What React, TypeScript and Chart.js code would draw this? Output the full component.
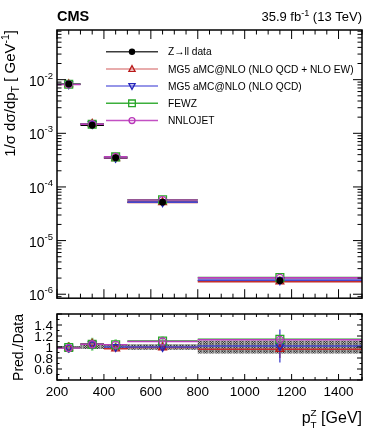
import React, { useEffect, useRef } from 'react';
import { Chart, registerables } from 'chart.js';
Chart.register(...registerables);

// ---------------- data ----------------
const binLow = [200, 300, 400, 500, 800];
const binHigh = [300, 400, 500, 800, 1500];
const binCenter = [250, 350, 450, 650, 1150];

const dataValues = [8.3e-3, 1.41e-3, 3.49e-4, 5.2e-5, 1.79e-6];
const mg5EwValues = [8.2e-3, 1.5e-3, 3.42e-4, 5.15e-5, 1.72e-6];
const mg5QcdValues = [8.2e-3, 1.49e-3, 3.49e-4, 5.2e-5, 1.83e-6];
const fewzValues = [8.2e-3, 1.48e-3, 3.63e-4, 5.75e-5, 2.04e-6];
const nnlojetValues = [8.15e-3, 1.48e-3, 3.63e-4, 5.7e-5, 2.02e-6];

const dataRelErr = [0.02, 0.035, 0.035, 0.05, 0.12];
const mg5EwRatio = [0.99, 1.06, 0.97, 0.99, 0.96];
const mg5EwRatioErr = [0.03, 0.04, 0.05, 0.06, 0.16];
const mg5QcdRatio = [0.99, 1.05, 1.0, 1.0, 1.02];
const mg5QcdRatioErr = [0.03, 0.04, 0.05, 0.06, 0.3];
const fewzRatio = [0.99, 1.05, 1.04, 1.11, 1.14];
const fewzRatioErr = [0.1, 0.12, 0.1, 0.08, 0.05];
const nnlojetRatio = [0.98, 1.05, 1.04, 1.1, 1.13];
const nnlojetRatioErr = [0.02, 0.02, 0.02, 0.03, 0.04];

const seriesLabels = ['Z\u2192ll data', 'MG5 aMC@NLO (NLO QCD + NLO EW)', 'MG5 aMC@NLO (NLO QCD)', 'FEWZ', 'NNLOJET'];
const xTickLabels = [200, 400, 600, 800, 1000, 1200, 1400];
const mainYDecades = [-2, -3, -4, -5, -6];
const ratioTickLabels = [0.6, 0.8, 1, 1.2, 1.4];

// ---------------- styles ----------------
const FONT = "'Liberation Sans', Arial, Helvetica, sans-serif";
const X_MIN = 200, X_MAX = 1500;
const Y_MIN = 8.43e-7, Y_MAX = 8.43e-2;
const R_MIN = 0.4, R_MAX = 1.6;

type Pred = {
  label: string; values: number[]; ratio: number[]; err: number[];
  line: string; legendLine: string; marker: string; style: string; rot: number; r: number;
  errColor: string; errWidth: number;
};
const preds: Pred[] = [
  { label: seriesLabels[1], values: mg5EwValues, ratio: mg5EwRatio, err: mg5EwRatioErr, line: 'rgb(195,45,45)', legendLine: 'rgb(225,145,145)', marker: 'rgb(185,25,25)', style: 'triangle', rot: 0, r: 4.5, errColor: 'rgb(205,40,40)', errWidth: 1.2 },
  { label: seriesLabels[2], values: mg5QcdValues, ratio: mg5QcdRatio, err: mg5QcdRatioErr, line: 'rgb(70,70,205)', legendLine: 'rgb(115,115,225)', marker: 'rgb(35,35,185)', style: 'triangle', rot: 180, r: 4.5, errColor: 'rgb(50,50,200)', errWidth: 1.2 },
  { label: seriesLabels[3], values: fewzValues, ratio: fewzRatio, err: fewzRatioErr, line: 'rgb(40,165,40)', legendLine: 'rgb(60,175,60)', marker: 'rgb(40,165,40)', style: 'rect', rot: 0, r: 5.5, errColor: 'rgba(90,200,90,0.75)', errWidth: 2.5 },
  { label: seriesLabels[4], values: nnlojetValues, ratio: nnlojetRatio, err: nnlojetRatioErr, line: 'rgb(185,60,185)', legendLine: 'rgb(195,80,195)', marker: 'rgb(185,55,185)', style: 'circle', rot: 0, r: 3.5, errColor: 'rgb(185,60,185)', errWidth: 1.2 },
];

type Pt = { x: number; y: number | null };
function binSegments(vals: number[]): Pt[] {
  const out: Pt[] = [];
  vals.forEach((v, i) => {
    out.push({ x: binLow[i], y: v }, { x: binHigh[i], y: v }, { x: binHigh[i], y: null });
  });
  return out;
}
function errSegments(vals: number[], errs: number[]): Pt[] {
  const out: Pt[] = [];
  vals.forEach((v, i) => {
    out.push({ x: binCenter[i], y: v - errs[i] }, { x: binCenter[i], y: v + errs[i] }, { x: binCenter[i], y: null });
  });
  return out;
}
function centerPoints(vals: number[]): Pt[] {
  return vals.map((v, i) => ({ x: binCenter[i], y: v }));
}
function bandEdge(sign: number): Pt[] {
  const out: Pt[] = [];
  dataRelErr.forEach((e, i) => {
    out.push({ x: binLow[i], y: 1 + sign * e }, { x: binHigh[i], y: 1 + sign * e });
  });
  return out;
}

type Piece = { t: string; s?: number; dy?: number; noAdv?: boolean; bold?: boolean };
function drawPieces(ctx: CanvasRenderingContext2D, pieces: Piece[], x: number, y: number, size: number, align: 'left' | 'right' | 'center') {
  const widths = pieces.map((p) => {
    ctx.font = `${p.bold ? 'bold ' : ''}${size * (p.s ?? 1)}px ${FONT}`;
    return ctx.measureText(p.t).width;
  });
  let total = 0;
  pieces.forEach((p, i) => { if (!p.noAdv) total += widths[i]; });
  let cx = align === 'left' ? x : align === 'right' ? x - total : x - total / 2;
  ctx.textAlign = 'left';
  ctx.textBaseline = 'alphabetic';
  pieces.forEach((p, i) => {
    ctx.font = `${p.bold ? 'bold ' : ''}${size * (p.s ?? 1)}px ${FONT}`;
    ctx.fillText(p.t, cx, y + (p.dy ?? 0) * size);
    if (!p.noAdv) cx += widths[i];
  });
}

function seg(ctx: CanvasRenderingContext2D, x1: number, y1: number, x2: number, y2: number) {
  ctx.beginPath(); ctx.moveTo(x1, y1); ctx.lineTo(x2, y2); ctx.stroke();
}

function drawMarker(ctx: CanvasRenderingContext2D, style: string, rot: number, x: number, y: number, r: number, color: string, filled: boolean) {
  ctx.save();
  ctx.strokeStyle = color; ctx.fillStyle = color; ctx.lineWidth = 1.3;
  ctx.beginPath();
  if (style === 'circle') {
    ctx.arc(x, y, r, 0, Math.PI * 2);
  } else if (style === 'rect') {
    const h = r * Math.SQRT1_2;
    ctx.rect(x - h, y - h, 2 * h, 2 * h);
  } else {
    const s = rot ? -1 : 1;
    const h = r * 0.85;
    ctx.moveTo(x, y - s * h);
    ctx.lineTo(x - h * 0.95, y + s * h * 0.75);
    ctx.lineTo(x + h * 0.95, y + s * h * 0.75);
    ctx.closePath();
  }
  if (filled) ctx.fill(); else ctx.stroke();
  ctx.restore();
}

function drawXTicks(ctx: CanvasRenderingContext2D, xs: any, a: any, maj: number, min: number) {
  for (let v = X_MIN; v <= X_MAX; v += 50) {
    const px = xs.getPixelForValue(v);
    const len = v % 200 === 0 ? maj : min;
    seg(ctx, px, a.bottom, px, a.bottom - len);
    seg(ctx, px, a.top, px, a.top + len);
  }
}

const mainDecor = {
  id: 'mainDecor',
  afterDraw(chart: any) {
    const { ctx, chartArea: a, scales } = chart;
    const xs = scales.x, ys = scales.y;
    ctx.save();
    ctx.strokeStyle = '#000'; ctx.fillStyle = '#000'; ctx.lineWidth = 1;
    drawXTicks(ctx, xs, a, 9, 4.5);
    for (let d = -7; d <= -1; d++) {
      for (let m = 1; m <= 9; m++) {
        const v = m * Math.pow(10, d);
        if (v < Y_MIN || v > Y_MAX) continue;
        const py = ys.getPixelForValue(v);
        const len = m === 1 ? 9 : 4.5;
        seg(ctx, a.left, py, a.left + len, py);
        seg(ctx, a.right, py, a.right - len, py);
      }
    }
    ctx.lineWidth = 1.5;
    ctx.strokeRect(a.left, a.top, a.right - a.left, a.bottom - a.top);

    // y labels
    mainYDecades.forEach((d) => {
      const py = ys.getPixelForValue(Math.pow(10, d));
      drawPieces(ctx, [{ t: '10' }, { t: String(d), s: 0.68, dy: -0.5 }], 53, py + 6, 14, 'right');
    });

    // legend
    const entryY0 = 51.7, entryDy = 17.2, lx0 = 106, lx1 = 158, mx = 132, tx = 168;
    seriesLabels.forEach((lab, i) => {
      const y = entryY0 + i * entryDy;
      ctx.lineWidth = 1.5;
      if (i === 0) {
        ctx.strokeStyle = 'rgb(60,60,60)';
        seg(ctx, lx0, y, lx1, y);
        drawMarker(ctx, 'circle', 0, mx, y, 3.2, '#000', true);
      } else {
        const p = preds[i - 1];
        ctx.strokeStyle = p.legendLine;
        seg(ctx, lx0, y, lx1, y);
        drawMarker(ctx, p.style, p.rot, mx, y, p.r * 0.85, p.marker, false);
      }
      ctx.fillStyle = '#000';
      drawPieces(ctx, [{ t: lab }], tx, y + 3.7, 10.2, 'left');
    });

    // header
    drawPieces(ctx, [{ t: 'CMS', bold: true }], a.left, 21, 14.5, 'left');
    drawPieces(ctx, [{ t: '35.9 fb' }, { t: '-1', s: 0.7, dy: -0.42 }, { t: ' (13 TeV)' }], a.right, 21, 13, 'right');

    // y title
    ctx.save();
    ctx.translate(15, a.top);
    ctx.rotate(-Math.PI / 2);
    drawPieces(ctx, [
      { t: '1/\u03c3 d\u03c3/dp' }, { t: 'T', s: 0.7, dy: 0.25 }, { t: ' [ GeV' }, { t: '-1', s: 0.7, dy: -0.42 }, { t: ']' },
    ], 0, 0, 15, 'right');
    ctx.restore();
    ctx.restore();
  },
};

const ratioDecor = {
  id: 'ratioDecor',
  afterDraw(chart: any) {
    const { ctx, chartArea: a, scales } = chart;
    const xs = scales.x, ys = scales.y;
    ctx.save();
    ctx.strokeStyle = '#000'; ctx.fillStyle = '#000'; ctx.lineWidth = 1;
    drawXTicks(ctx, xs, a, 6, 3);
    for (let k = 4; k <= 16; k++) {
      const v = k / 10;
      const py = ys.getPixelForValue(v);
      const len = k % 2 === 0 ? 5 : 2.5;
      seg(ctx, a.left, py, a.left + len, py);
      seg(ctx, a.right, py, a.right - len, py);
    }
    ctx.lineWidth = 1.5;
    ctx.strokeRect(a.left, a.top, a.right - a.left, a.bottom - a.top);

    ratioTickLabels.forEach((v) => {
      const py = ys.getPixelForValue(v);
      drawPieces(ctx, [{ t: String(v) }], 53, py + 4.7, 13.5, 'right');
    });
    xTickLabels.forEach((v) => {
      const px = xs.getPixelForValue(v);
      drawPieces(ctx, [{ t: String(v) }], px, a.bottom + 15.5, 13.5, 'center');
    });

    // x title
    drawPieces(ctx, [
      { t: 'p' }, { t: 'T', s: 0.62, dy: 0.3, noAdv: true }, { t: 'Z', s: 0.62, dy: -0.45 }, { t: ' [GeV]' },
    ], a.right, 118, 16, 'right');

    // y title
    ctx.save();
    ctx.translate(23, a.top);
    ctx.rotate(-Math.PI / 2);
    drawPieces(ctx, [{ t: 'Pred./Data' }], 0, 0, 14, 'right');
    ctx.restore();
    ctx.restore();
  },
};

function makeHatch(): CanvasPattern | string {
  const c = document.createElement('canvas');
  c.width = 6; c.height = 6;
  const g = c.getContext('2d');
  if (!g) return 'rgb(120,120,120)';
  const D = 'rgb(60,60,60)', L = 'rgb(175,175,175)', M = 'rgb(125,125,125)';
  const rows = [
    [D, L, D, M, L, M],
    [L, D, L, M, L, M],
    [D, L, D, M, L, M],
    [M, M, M, M, L, M],
    [D, L, D, M, L, M],
    [L, D, L, M, L, M],
  ];
  rows.forEach((row, y) => row.forEach((col, x) => { g.fillStyle = col; g.fillRect(x, y, 1, 1); }));
  const p = g.createPattern(c, 'repeat');
  return p || 'rgb(120,120,120)';
}

export default function App() {
  const topRef = useRef<HTMLCanvasElement>(null);
  const botRef = useRef<HTMLCanvasElement>(null);

  useEffect(() => {
    document.body.style.margin = '0';
    const lineDs = (data: Pt[], color: string, width: number, order: number) => ({
      type: 'line', data, borderColor: color, borderWidth: width, pointRadius: 0, showLine: true,
      spanGaps: false, fill: false, order, tension: 0,
    });
    const markerDs = (data: Pt[], p: { style: string; rot: number; r: number; marker: string }, filled: boolean, order: number) => ({
      type: 'line', data, showLine: false, pointStyle: p.style, pointRotation: p.rot, pointRadius: p.r,
      pointBorderColor: p.marker, pointBackgroundColor: filled ? p.marker : 'rgba(0,0,0,0)', pointBorderWidth: 1.3,
      borderColor: p.marker, order,
    });

    const mainSets: any[] = [];
    mainSets.push(markerDs(centerPoints(dataValues), { style: 'circle', rot: 0, r: 2.8, marker: '#000' }, true, 0));
    preds.forEach((p, i) => {
      mainSets.push(markerDs(centerPoints(p.values), p, false, 4 - i + 1));
      mainSets.push(lineDs(binSegments(p.values), p.line, 1.6, 14 - i));
    });
    mainSets.push(lineDs(binSegments(dataValues), '#000', 1.2, 20));

    const baseOpts = {
      responsive: false, animation: false as const, events: [] as any[],
      plugins: { legend: { display: false }, tooltip: { enabled: false } },
    };

    const c1 = new Chart(topRef.current as HTMLCanvasElement, {
      type: 'line',
      data: { datasets: mainSets },
      options: {
        ...baseOpts,
        layout: { padding: { left: 57, right: 20, top: 30, bottom: 5 } },
        scales: {
          x: { type: 'linear', min: X_MIN, max: X_MAX, display: false },
          y: { type: 'logarithmic', min: Y_MIN, max: Y_MAX, display: false },
        },
      } as any,
      plugins: [mainDecor],
    } as any);

    const hatch = makeHatch();
    const ratioSets: any[] = [];
    preds.forEach((p, i) => {
      ratioSets.push(markerDs(centerPoints(p.ratio), p, false, 4 - i));
      ratioSets.push(lineDs(errSegments(p.ratio, p.err), p.errColor, p.errWidth, 9 - i));
      ratioSets.push(lineDs(binSegments(p.ratio), p.line, 1.5, 14 - i));
    });
    ratioSets.push({
      type: 'line', data: bandEdge(1), borderWidth: 0, borderColor: 'rgba(0,0,0,0)', pointRadius: 0,
      backgroundColor: hatch, fill: '+1', order: 50,
    });
    ratioSets.push({
      type: 'line', data: bandEdge(-1), borderWidth: 0, borderColor: 'rgba(0,0,0,0)', pointRadius: 0,
      fill: false, order: 51,
    });

    const c2 = new Chart(botRef.current as HTMLCanvasElement, {
      type: 'line',
      data: { datasets: ratioSets },
      options: {
        ...baseOpts,
        layout: { padding: { left: 57, right: 20, top: 9, bottom: 51 } },
        scales: {
          x: { type: 'linear', min: X_MIN, max: X_MAX, display: false },
          y: { type: 'linear', min: R_MIN, max: R_MAX, display: false },
        },
      } as any,
      plugins: [ratioDecor],
    } as any);

    return () => { c1.destroy(); c2.destroy(); };
  }, []);

  return (
    <div style={{ position: 'fixed', left: 0, top: 0, width: 382, height: 431, background: '#fff' }}>
      <canvas ref={topRef} width={382} height={305} style={{ position: 'absolute', left: 0, top: 0, width: 382, height: 305 }} />
      <canvas ref={botRef} width={382} height={126} style={{ position: 'absolute', left: 0, top: 305, width: 382, height: 126 }} />
    </div>
  );
}
